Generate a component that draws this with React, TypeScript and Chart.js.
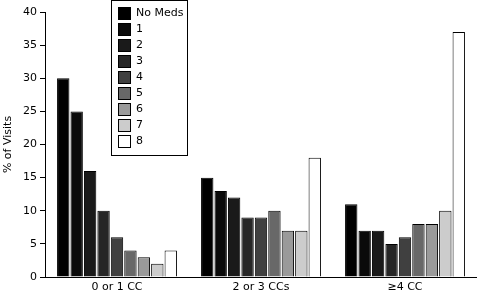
import React, { useEffect, useRef } from "react";
import { Chart, registerables } from "chart.js";

Chart.register(...registerables);

const categories = ["0 or 1 CC", "2 or 3 CCs", "≥4 CC"];
const seriesNames = ["No Meds", "1", "2", "3", "4", "5", "6", "7", "8"];
const seriesColors = ["#000000", "#0a0a0a", "#1a1a1a", "#262626", "#404040", "#686868", "#9a9a9a", "#cccccc", "#ffffff"];
const noMeds = [30, 15, 11];
const meds1 = [25, 13, 7];
const meds2 = [16, 12, 7];
const meds3 = [10, 9, 5];
const meds4 = [6, 9, 6];
const meds5 = [4, 10, 8];
const meds6 = [3, 7, 8];
const meds7 = [2, 7, 10];
const meds8 = [4, 18, 37];
const seriesValues = [noMeds, meds1, meds2, meds3, meds4, meds5, meds6, meds7, meds8];
const yTicks = [0, 5, 10, 15, 20, 25, 30, 35, 40];

const FONT = "'DejaVu Sans', Verdana, sans-serif";

const legendPlugin = {
  id: "boxLegend",
  afterDraw(chart: any) {
    const ctx = chart.ctx;
    ctx.save();
    const x0 = 111, y0 = 0, w = 76, h = 155;
    ctx.fillStyle = "#fff";
    ctx.fillRect(x0, y0, w, h);
    ctx.strokeStyle = "#000";
    ctx.lineWidth = 1;
    ctx.strokeRect(x0 + 0.5, y0 + 0.5, w, h);
    ctx.font = `11px ${FONT}`;
    ctx.textBaseline = "middle";
    chart.data.datasets.forEach((ds: any, i: number) => {
      const sy = 7 + i * 16;
      ctx.fillStyle = ds.backgroundColor;
      ctx.fillRect(118, sy, 12, 12);
      ctx.strokeStyle = "#000";
      ctx.strokeRect(118.5, sy + 0.5, 12, 12);
      ctx.fillStyle = "#000";
      ctx.fillText(ds.label, 136, sy + 6.5);
    });
    ctx.restore();
  },
};

export default function App() {
  const ref = useRef<HTMLCanvasElement>(null);
  useEffect(() => {
    document.body.style.margin = "0";
    const chart = new Chart(ref.current!, {
      type: "bar",
      data: {
        labels: categories,
        datasets: seriesNames.map((name, i) => ({
          label: name,
          data: seriesValues[i],
          backgroundColor: seriesColors[i],
          borderColor: "#000",
          borderWidth: 1,
          barPercentage: 0.92,
          categoryPercentage: 0.84,
        })),
      },
      options: {
        animation: false,
        responsive: false,
        maintainAspectRatio: false,
        layout: { padding: { top: 12, right: 0, left: 2, bottom: 0 } },
        plugins: { legend: { display: false }, tooltip: { enabled: false } },
        scales: {
          x: {
            grid: { display: false, drawTicks: false },
            border: { color: "#000", width: 1 },
            ticks: { color: "#000", font: { family: FONT, size: 11 }, padding: 4 },
            afterFit: (s: any) => { s.height = 17; },
          },
          y: {
            min: 0,
            max: 40,
            afterBuildTicks: (s: any) => { s.ticks = yTicks.map((v) => ({ value: v })); },
            grid: { drawOnChartArea: false, drawTicks: true, tickLength: 5, color: "#000" },
            border: { color: "#000", width: 1 },
            ticks: { color: "#000", font: { family: FONT, size: 11 }, padding: 3 },
            title: { display: true, text: "% of Visits", color: "#000", font: { family: FONT, size: 11 }, padding: 0 },
            afterFit: (s: any) => { s.width = 43; },
          },
        },
      },
      plugins: [legendPlugin],
    });
    return () => chart.destroy();
  }, []);
  return <canvas ref={ref} width={477} height={294} style={{ display: "block" }} />;
}
